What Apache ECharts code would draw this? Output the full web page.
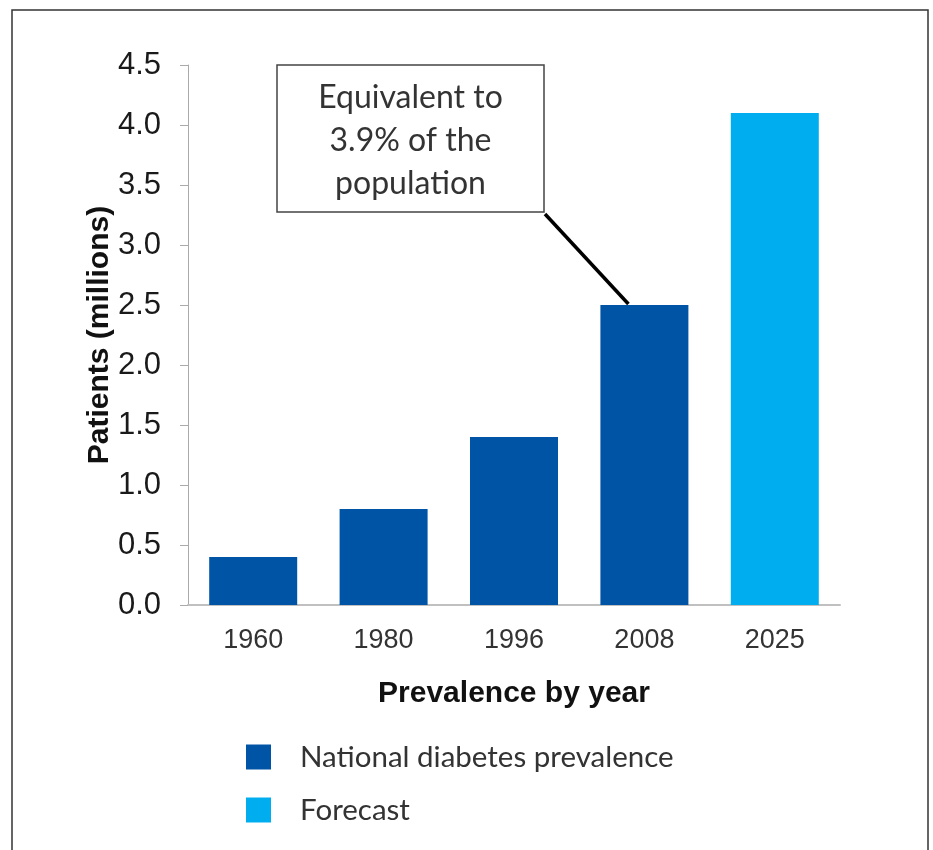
<!DOCTYPE html>
<html>
<head>
<meta charset="utf-8">
<script src="https://cdn.jsdelivr.net/npm/echarts@6/dist/echarts.min.js"></script>
<style>html,body{margin:0;padding:0;background:#fff;}#c{width:933px;height:850px;}</style>
</head>
<body>
<div id="c"></div>
<script>
const years = ['1960', '1980', '1996', '2008', '2025'];
const prevalence = [0.4, 0.8, 1.4, 2.5, '-'];
const forecast = ['-', '-', '-', '-', 4.1];
const yTicks = { min: 0, max: 4.5, interval: 0.5 };
const calloutLines = ['Equivalent to', '3.9% of the', 'population'];
const calloutIndex = 3;

const chart = echarts.init(document.getElementById('c'), null, { renderer: 'canvas' });
const option = {
  backgroundColor: '#fff',
  animation: false,
  grid: { left: 188, right: 93, top: 65, bottom: 245, containLabel: false },
  legend: {
    orient: 'vertical', left: 246, top: 742, itemWidth: 25, itemHeight: 25, itemGap: 23,
    padding: 0, icon: 'rect',
    textStyle: { fontFamily: 'Lato', fontSize: 29.5, color: '#333', padding: [0, 0, 0, 24] },
    data: ['National diabetes prevalence', 'Forecast']
  },
  xAxis: {
    type: 'category', data: years,
    name: 'Prevalence by year', nameLocation: 'middle', nameGap: 74,
    nameTextStyle: { fontFamily: 'Liberation Sans', fontWeight: 'bold', fontSize: 30, color: '#111' },
    axisLine: { lineStyle: { color: '#c0c0c0', width: 2 } },
    axisTick: { show: false },
    axisLabel: { fontFamily: 'Liberation Sans', fontSize: 27, color: '#333', margin: 22 }
  },
  yAxis: {
    type: 'value', min: yTicks.min, max: yTicks.max, interval: yTicks.interval,
    name: 'Patients (millions)', nameLocation: 'middle', nameGap: 73, nameRotate: 90,
    nameMoveOverlap: false,
    nameTextStyle: { fontFamily: 'Liberation Sans', fontWeight: 'bold', fontSize: 30, color: '#111' },
    axisLine: { show: true, lineStyle: { color: '#aaa', width: 1 } },
    axisTick: { show: true, length: 8, lineStyle: { color: '#aaa' } },
    splitLine: { show: false },
    axisLabel: { fontFamily: 'Liberation Sans', fontSize: 31, color: '#1a1a1a', margin: 27,
      formatter: v => v.toFixed(1) }
  },
  series: [
    { name: 'National diabetes prevalence', type: 'bar', stack: 'all', data: prevalence,
      barWidth: 88, itemStyle: { color: '#0054A6' } },
    { name: 'Forecast', type: 'bar', stack: 'all', data: forecast,
      barWidth: 88, itemStyle: { color: '#00AEEF' } }
  ]
};
chart.setOption(option);

const boxL = 277, boxT = 65, boxW = 267, boxH = 147;
const tip = chart.convertToPixel({ seriesIndex: 0 }, [calloutIndex, prevalence[calloutIndex]]);
chart.setOption({
  graphic: [
    { type: 'rect', shape: { x: 12, y: 10, width: 916, height: 860 }, silent: true,
      style: { fill: 'none', stroke: '#333', lineWidth: 1.5 }, z: 100 },
    { type: 'line', shape: { x1: boxL + boxW + 1, y1: boxT + boxH + 2, x2: tip[0] - 16, y2: tip[1] - 1 },
      style: { stroke: '#000', lineWidth: 3.5 }, z: 100 },
    { type: 'rect', shape: { x: boxL, y: boxT, width: boxW, height: boxH },
      style: { fill: '#fff', stroke: '#444', lineWidth: 1.5 }, z: 101 },
    { type: 'text', x: boxL + boxW / 2, y: boxT + boxH / 2 + 2, z: 102,
      style: { text: calloutLines.join('\n'), fontFamily: 'Lato', fontSize: 32, lineHeight: 43,
        fill: '#333', align: 'center', verticalAlign: 'middle' } }
  ]
});
</script>
</body>
</html>
